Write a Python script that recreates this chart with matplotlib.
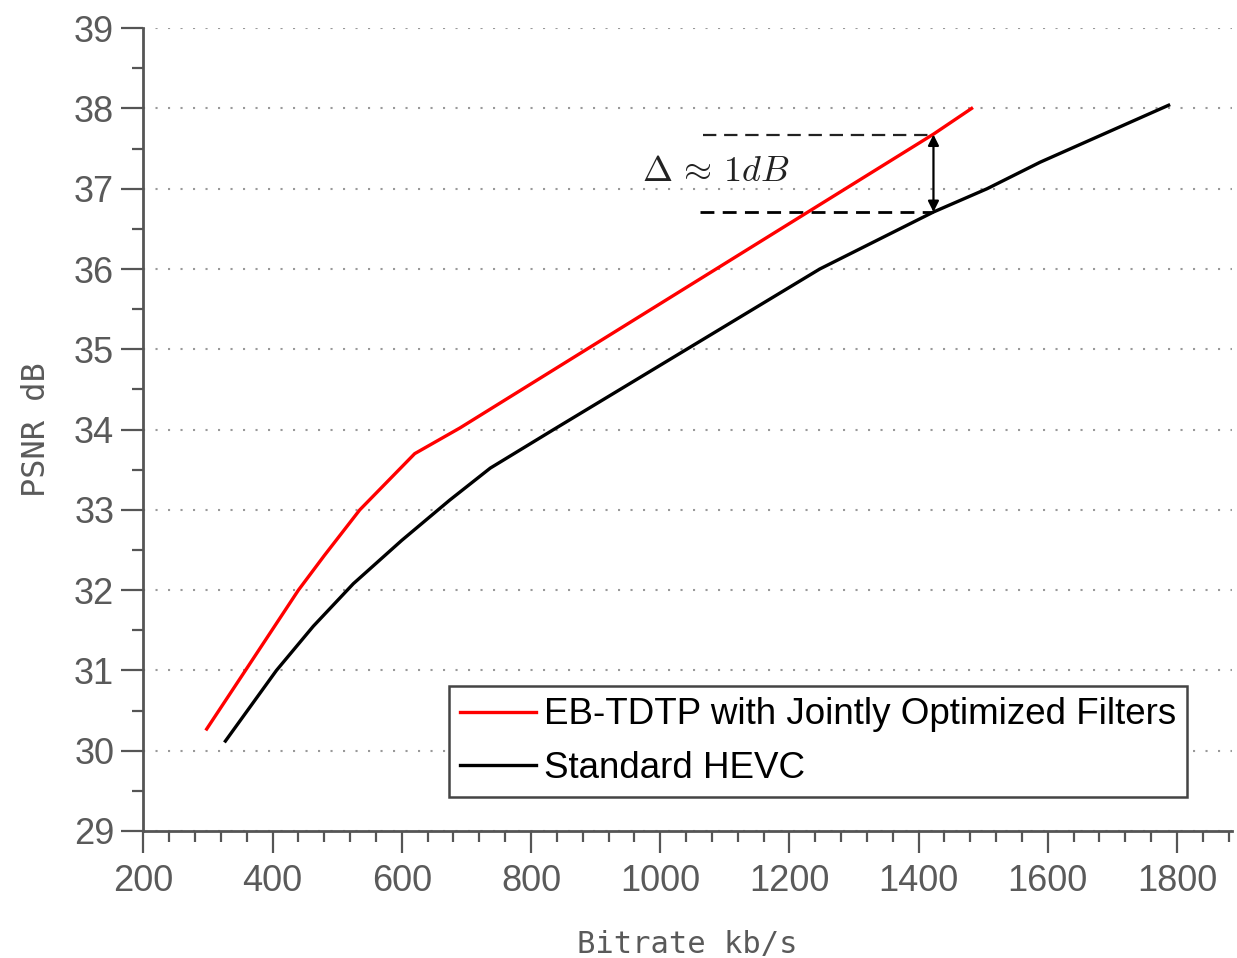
import numpy as np
import matplotlib
matplotlib.use('Agg')
import matplotlib.pyplot as plt
from matplotlib.ticker import MultipleLocator

# values
eb_rate = [298, 358, 440, 480, 535, 620, 690, 1423, 1482]
eb_psnr = [30.27, 31.0, 32.0, 32.43, 33.0, 33.7, 34.02, 37.68, 38.0]

hevc_rate = [327, 406, 463, 525, 600, 674, 737, 835, 1041, 1247, 1423, 1506, 1588, 1787]
hevc_psnr = [30.12, 31.0, 31.55, 32.08, 32.62, 33.12, 33.52, 34.0, 35.0, 36.0, 36.71, 37.0, 37.33, 38.04]

labels = ['EB-TDTP with Jointly Optimized Filters', 'Standard HEVC']

# delta annotation
gap_rate = 1423
gap_lo, gap_hi = 36.71, 37.675
dash_lo_start, dash_hi_start = 1062, 1067

plt.rcParams['font.family'] = ['Liberation Sans', 'DejaVu Sans']
plt.rcParams['mathtext.fontset'] = 'cm'

fig = plt.figure(figsize=(12.37, 9.58), dpi=100)
ax = fig.add_axes([0.1159, 0.1326, 0.880, 0.838])

ax.plot(eb_rate, eb_psnr, color='#ff0000', lw=2.4, label=labels[0], zorder=3)
ax.plot(hevc_rate, hevc_psnr, color='black', lw=2.4, label=labels[1], zorder=3)

ax.plot([dash_hi_start, gap_rate], [gap_hi, gap_hi], color='#222222', lw=1.6, dashes=(6, 3.5))
ax.plot([dash_lo_start, gap_rate], [gap_lo, gap_lo], color='black', lw=2.0, dashes=(5, 3))
ax.annotate('', xy=(gap_rate, gap_hi), xytext=(gap_rate, gap_lo),
            arrowprops=dict(arrowstyle='<|-|>', color='black', lw=1.6, mutation_scale=16,
                            shrinkA=0, shrinkB=0))
ax.text(972, 37.21, r'$\Delta\,\approx\,1dB$', fontsize=26, ha='left', va='center', color='#222222')

ax.set_xlim(200, 1885)
ax.set_ylim(29, 39)
ax.xaxis.set_major_locator(MultipleLocator(200))
ax.xaxis.set_minor_locator(MultipleLocator(40))
ax.yaxis.set_major_locator(MultipleLocator(1))
ax.yaxis.set_minor_locator(MultipleLocator(0.5))

for side in ['top', 'right']:
    ax.spines[side].set_visible(False)
for side in ['left', 'bottom']:
    ax.spines[side].set_color('#555555')
    ax.spines[side].set_linewidth(2)

ax.tick_params(which='major', length=16, width=1.6, color='#555555', labelsize=26,
               labelcolor='#5a5a5a', pad=5)
ax.tick_params(axis='x', which='major', pad=8)
ax.tick_params(which='minor', length=8, width=1.6, color='#555555')

ax.grid(axis='y', which='major', color='#999999', lw=1.5, linestyle=(0, (1, 5)))
ax.set_axisbelow(True)

ax.set_xlabel('Bitrate kb/s', family='DejaVu Sans Mono', fontsize=22, color='#5a5a5a', labelpad=22)
ax.set_ylabel('PSNR dB', family='DejaVu Sans Mono', fontsize=23, color='#5a5a5a', labelpad=16)

leg = ax.legend(loc='lower left', bbox_to_anchor=(0.2808, 0.0424), borderaxespad=0,
                fontsize=26.5, handlelength=2.07, handletextpad=0.2, labelspacing=0.5,
                borderpad=0.3, fancybox=False, framealpha=1, edgecolor='#444444')
leg.get_frame().set_linewidth(1.8)

fig.savefig('out.png', dpi=100)
